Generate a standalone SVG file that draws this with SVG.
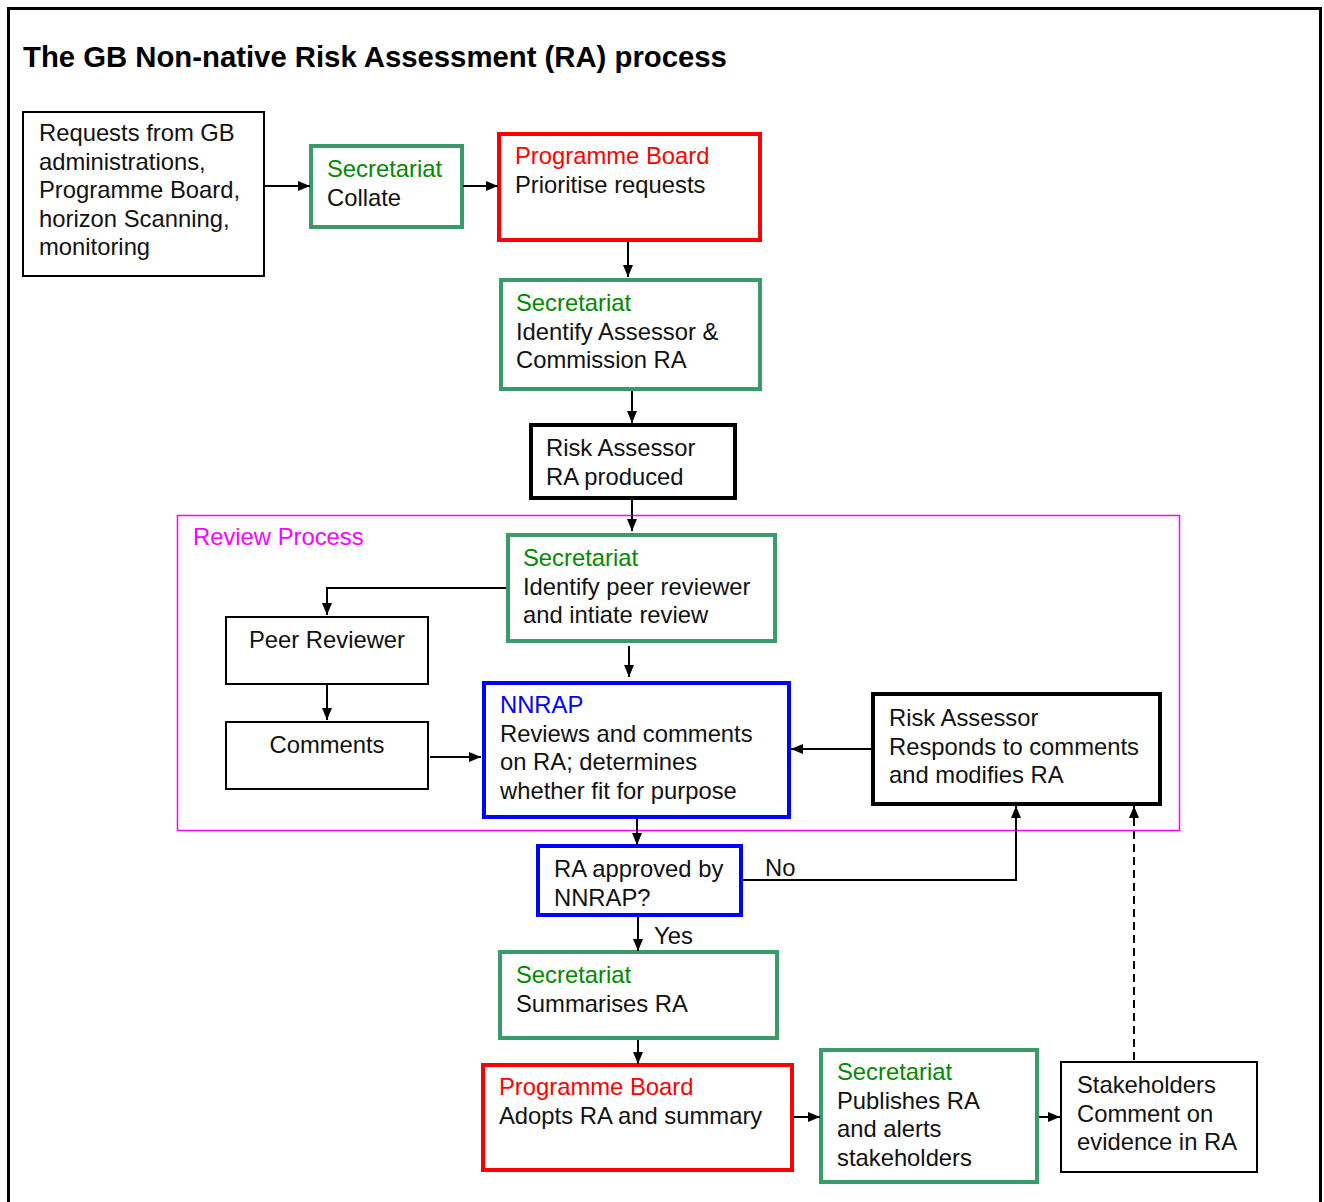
<svg xmlns="http://www.w3.org/2000/svg" width="1324" height="1202" viewBox="0 0 1324 1202">
<style>
text{font-family:"Liberation Sans",Arial,sans-serif;font-size:23.8px;fill:#111}
.title{font-size:29.3px;font-weight:bold;fill:#000}
.g{fill:#008a00}.r{fill:#ff0000}.b{fill:#0000ff}.m{fill:#ff00ff}
.box{fill:#fff}
.thin{stroke:#000;stroke-width:2}
.blk{stroke:#000;stroke-width:4}
.grn{stroke:#3a9a6a;stroke-width:4}
.red{stroke:#ff0000;stroke-width:4}
.blu{stroke:#0000ff;stroke-width:4}
.con{fill:none;stroke:#000;stroke-width:2}
</style>
<defs>
<marker id="ah" markerUnits="userSpaceOnUse" markerWidth="12" markerHeight="12" viewBox="0 0 12 12" refX="12" refY="6" orient="auto">
<path d="M0,1 L12,6 L0,11 Z" fill="#000"/>
</marker>
</defs>
<rect x="8.5" y="8.5" width="1312" height="1210" fill="#fff" stroke="#000" stroke-width="3"/>
<text class="title" x="23" y="67">The GB Non-native Risk Assessment (RA) process</text>

<g id="review-process">
<rect x="177.5" y="515.5" width="1002" height="315" fill="none" stroke="#ff00ff" stroke-width="1.5"/>
<text class="m" x="193" y="545">Review Process</text>
</g>

<g id="requests">
<rect class="box thin" x="23" y="112" width="241" height="164"/>
<text x="39" y="141">Requests from GB</text>
<text x="39" y="170">administrations,</text>
<text x="39" y="198">Programme Board,</text>
<text x="39" y="227">horizon Scanning,</text>
<text x="39" y="255">monitoring</text>
</g>
<g id="collate">
<rect class="box grn" x="311" y="146" width="151" height="81"/>
<text class="g" x="327" y="177">Secretariat</text>
<text x="327" y="206">Collate</text>
</g>
<g id="prioritise">
<rect class="box red" x="499" y="134" width="261" height="106"/>
<text class="r" x="515" y="164">Programme Board</text>
<text x="515" y="193">Prioritise requests</text>
</g>
<g id="identify-assessor">
<rect class="box grn" x="501" y="280" width="259" height="109"/>
<text class="g" x="516" y="311">Secretariat</text>
<text x="516" y="340">Identify Assessor &amp;</text>
<text x="516" y="368">Commission RA</text>
</g>
<g id="ra-produced">
<rect class="box blk" x="531" y="425" width="204" height="73"/>
<text x="546" y="456">Risk Assessor</text>
<text x="546" y="485">RA produced</text>
</g>
<g id="identify-peer">
<rect class="box grn" x="508" y="535" width="267" height="106"/>
<text class="g" x="523" y="566">Secretariat</text>
<text x="523" y="595">Identify peer reviewer</text>
<text x="523" y="623">and intiate review</text>
</g>
<g id="peer-reviewer">
<rect class="box thin" x="226" y="617" width="202" height="67"/>
<text x="327" y="648" text-anchor="middle">Peer Reviewer</text>
</g>
<g id="comments">
<rect class="box thin" x="226" y="722" width="202" height="67"/>
<text x="327" y="753" text-anchor="middle">Comments</text>
</g>
<g id="nnrap">
<rect class="box blu" x="484" y="683" width="305" height="134"/>
<text class="b" x="500" y="713">NNRAP</text>
<text x="500" y="742">Reviews and comments</text>
<text x="500" y="770">on RA; determines</text>
<text x="500" y="799">whether  fit for purpose</text>
</g>
<g id="responds">
<rect class="box blk" x="873" y="694" width="287" height="110"/>
<text x="889" y="726">Risk Assessor</text>
<text x="889" y="755">Responds to comments</text>
<text x="889" y="783">and modifies RA</text>
</g>
<g id="approved">
<rect class="box blu" x="538" y="846" width="203" height="69"/>
<text x="554" y="877">RA approved by</text>
<text x="554" y="906">NNRAP?</text>
</g>
<g id="summarises">
<rect class="box grn" x="500" y="952" width="277" height="86"/>
<text class="g" x="516" y="983">Secretariat</text>
<text x="516" y="1012">Summarises RA</text>
</g>
<g id="adopts">
<rect class="box red" x="483" y="1065" width="309" height="105"/>
<text class="r" x="499" y="1095">Programme Board</text>
<text x="499" y="1124">Adopts RA and summary</text>
</g>
<g id="publishes">
<rect class="box grn" x="821" y="1050" width="216" height="132"/>
<text class="g" x="837" y="1080">Secretariat</text>
<text x="837" y="1109">Publishes RA</text>
<text x="837" y="1137">and alerts</text>
<text x="837" y="1166">stakeholders</text>
</g>
<g id="stakeholders">
<rect class="box thin" x="1061" y="1062" width="196" height="110"/>
<text x="1077" y="1093">Stakeholders</text>
<text x="1077" y="1122">Comment on</text>
<text x="1077" y="1150">evidence in RA</text>
</g>

<g id="connectors">
<line class="con" x1="265" y1="186" x2="310" y2="186" marker-end="url(#ah)"/>
<line class="con" x1="463" y1="186" x2="498" y2="186" marker-end="url(#ah)"/>
<line class="con" x1="628" y1="242" x2="628" y2="277" marker-end="url(#ah)"/>
<line class="con" x1="632" y1="391" x2="632" y2="423" marker-end="url(#ah)"/>
<line class="con" x1="632" y1="500" x2="632" y2="531" marker-end="url(#ah)"/>
<polyline class="con" points="506,588 327,588 327,615" marker-end="url(#ah)"/>
<line class="con" x1="327" y1="685" x2="327" y2="720" marker-end="url(#ah)"/>
<line class="con" x1="430" y1="757" x2="481" y2="757" marker-end="url(#ah)"/>
<line class="con" x1="629" y1="646" x2="629" y2="677" marker-end="url(#ah)"/>
<line class="con" x1="871" y1="749" x2="791" y2="749" marker-end="url(#ah)"/>
<line class="con" x1="637" y1="819" x2="637" y2="845" marker-end="url(#ah)"/>
<polyline class="con" points="743,880 1016,880 1016,806" marker-end="url(#ah)"/>
<text x="765" y="876">No</text>
<line class="con" x1="638" y1="917" x2="638" y2="951" marker-end="url(#ah)"/>
<text x="654" y="944">Yes</text>
<line class="con" x1="638" y1="1040" x2="638" y2="1064" marker-end="url(#ah)"/>
<line class="con" x1="794" y1="1117" x2="820" y2="1117" marker-end="url(#ah)"/>
<line class="con" x1="1039" y1="1117" x2="1060" y2="1117" marker-end="url(#ah)"/>
<line class="con" x1="1134" y1="1060" x2="1134" y2="806" stroke-dasharray="8,5" marker-end="url(#ah)"/>
</g>
</svg>
